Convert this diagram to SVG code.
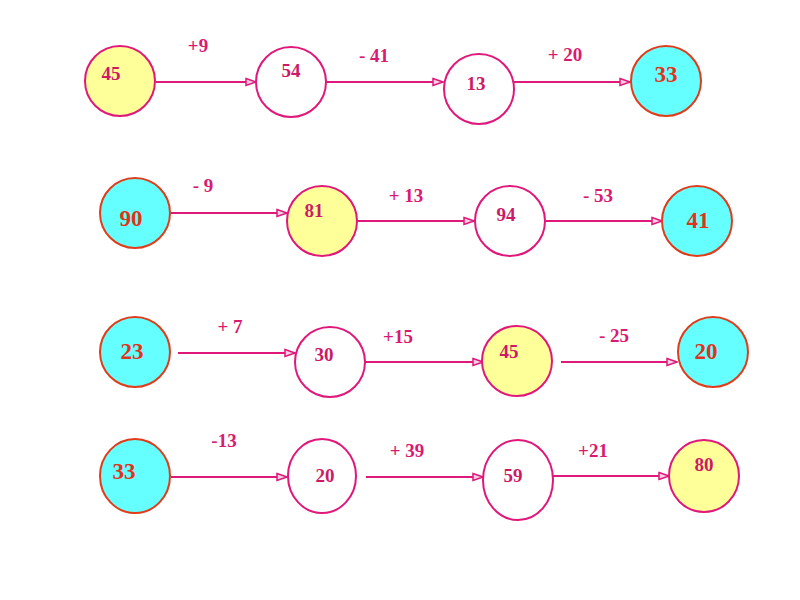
<svg xmlns="http://www.w3.org/2000/svg" width="800" height="600" viewBox="0 0 800 600">
<style>
.p{fill:#fff;stroke:#e0187a;stroke-width:2}
.y{fill:#ffff99;stroke:#e0187a;stroke-width:2}
.c{fill:#66ffff;stroke:#e03c1a;stroke-width:2}
text{font-family:"Liberation Serif",serif;font-weight:bold}
.t{fill:#cc1a66;font-size:19px}
.tc{fill:#e0331a;font-size:23px}
.l{fill:#d81b72;font-size:19px;text-anchor:middle}
.a{stroke:#e0187a;stroke-width:2.2;fill:none;marker-end:url(#ah)}
</style>
<defs>
<marker id="ah" markerWidth="12" markerHeight="10" refX="11" refY="5" orient="auto" markerUnits="userSpaceOnUse">
<path d="M1,1.5 L11,5 L1,8.5 Z" fill="#fbd0e4" stroke="#e0187a" stroke-width="1.5"/>
</marker>
</defs>
<rect width="800" height="600" fill="#fff"/>
<g id="connectors">
<line class="a" x1="156" y1="82" x2="256" y2="82"/>
<line class="a" x1="326" y1="82" x2="443" y2="82"/>
<line class="a" x1="514" y1="82" x2="630" y2="82"/>
<line class="a" x1="171" y1="213" x2="287" y2="213"/>
<line class="a" x1="357" y1="221" x2="474" y2="221"/>
<line class="a" x1="546" y1="221" x2="662" y2="221"/>
<line class="a" x1="178" y1="353" x2="295" y2="353"/>
<line class="a" x1="365" y1="362" x2="483" y2="362"/>
<line class="a" x1="561" y1="362" x2="677" y2="362"/>
<line class="a" x1="171" y1="477" x2="287" y2="477"/>
<line class="a" x1="366" y1="477" x2="483" y2="477"/>
<line class="a" x1="553" y1="476" x2="669" y2="476"/>
<text class="l" x="198" y="52">+9</text>
<text class="l" x="374" y="62">- 41</text>
<text class="l" x="565" y="61">+ 20</text>
<text class="l" x="203" y="192">- 9</text>
<text class="l" x="406" y="202">+ 13</text>
<text class="l" x="598" y="202">- 53</text>
<text class="l" x="230" y="333">+ 7</text>
<text class="l" x="398" y="343">+15</text>
<text class="l" x="614" y="342">- 25</text>
<text class="l" x="224" y="447">-13</text>
<text class="l" x="407" y="457">+ 39</text>
<text class="l" x="593" y="457">+21</text>
</g>
<g id="n1"><circle class="y" cx="120" cy="81" r="35"/><text class="t" x="111" y="80" text-anchor="middle">45</text></g>
<g id="n2"><circle class="p" cx="291" cy="82" r="35"/><text class="t" x="291" y="77" text-anchor="middle">54</text></g>
<g id="n3"><circle class="p" cx="479" cy="89" r="35"/><text class="t" x="476" y="90" text-anchor="middle">13</text></g>
<g id="n4"><circle class="c" cx="666" cy="81" r="35"/><text class="tc" x="666" y="82" text-anchor="middle">33</text></g>
<g id="n5"><circle class="c" cx="135" cy="213" r="35"/><text class="tc" x="131" y="226" text-anchor="middle">90</text></g>
<g id="n6"><circle class="y" cx="322" cy="221" r="35"/><text class="t" x="314" y="217" text-anchor="middle">81</text></g>
<g id="n7"><circle class="p" cx="510" cy="221" r="35"/><text class="t" x="506" y="221" text-anchor="middle">94</text></g>
<g id="n8"><circle class="c" cx="697" cy="221" r="35"/><text class="tc" x="698" y="228" text-anchor="middle">41</text></g>
<g id="n9"><circle class="c" cx="135" cy="352" r="35"/><text class="tc" x="132" y="359" text-anchor="middle">23</text></g>
<g id="n10"><circle class="p" cx="330" cy="362" r="35"/><text class="t" x="324" y="361" text-anchor="middle">30</text></g>
<g id="n11"><circle class="y" cx="517" cy="361" r="35"/><text class="t" x="509" y="358" text-anchor="middle">45</text></g>
<g id="n12"><circle class="c" cx="713" cy="352" r="35"/><text class="tc" x="706" y="359" text-anchor="middle">20</text></g>
<g id="n13"><ellipse class="c" cx="135" cy="476" rx="35" ry="37"/><text class="tc" x="124" y="479" text-anchor="middle">33</text></g>
<g id="n14"><ellipse class="p" cx="322" cy="476" rx="34" ry="37"/><text class="t" x="325" y="482" text-anchor="middle">20</text></g>
<g id="n15"><ellipse class="p" cx="518" cy="480" rx="35" ry="40"/><text class="t" x="513" y="482" text-anchor="middle">59</text></g>
<g id="n16"><ellipse class="y" cx="704" cy="476" rx="35" ry="36"/><text class="t" x="704" y="471" text-anchor="middle">80</text></g>
</svg>
